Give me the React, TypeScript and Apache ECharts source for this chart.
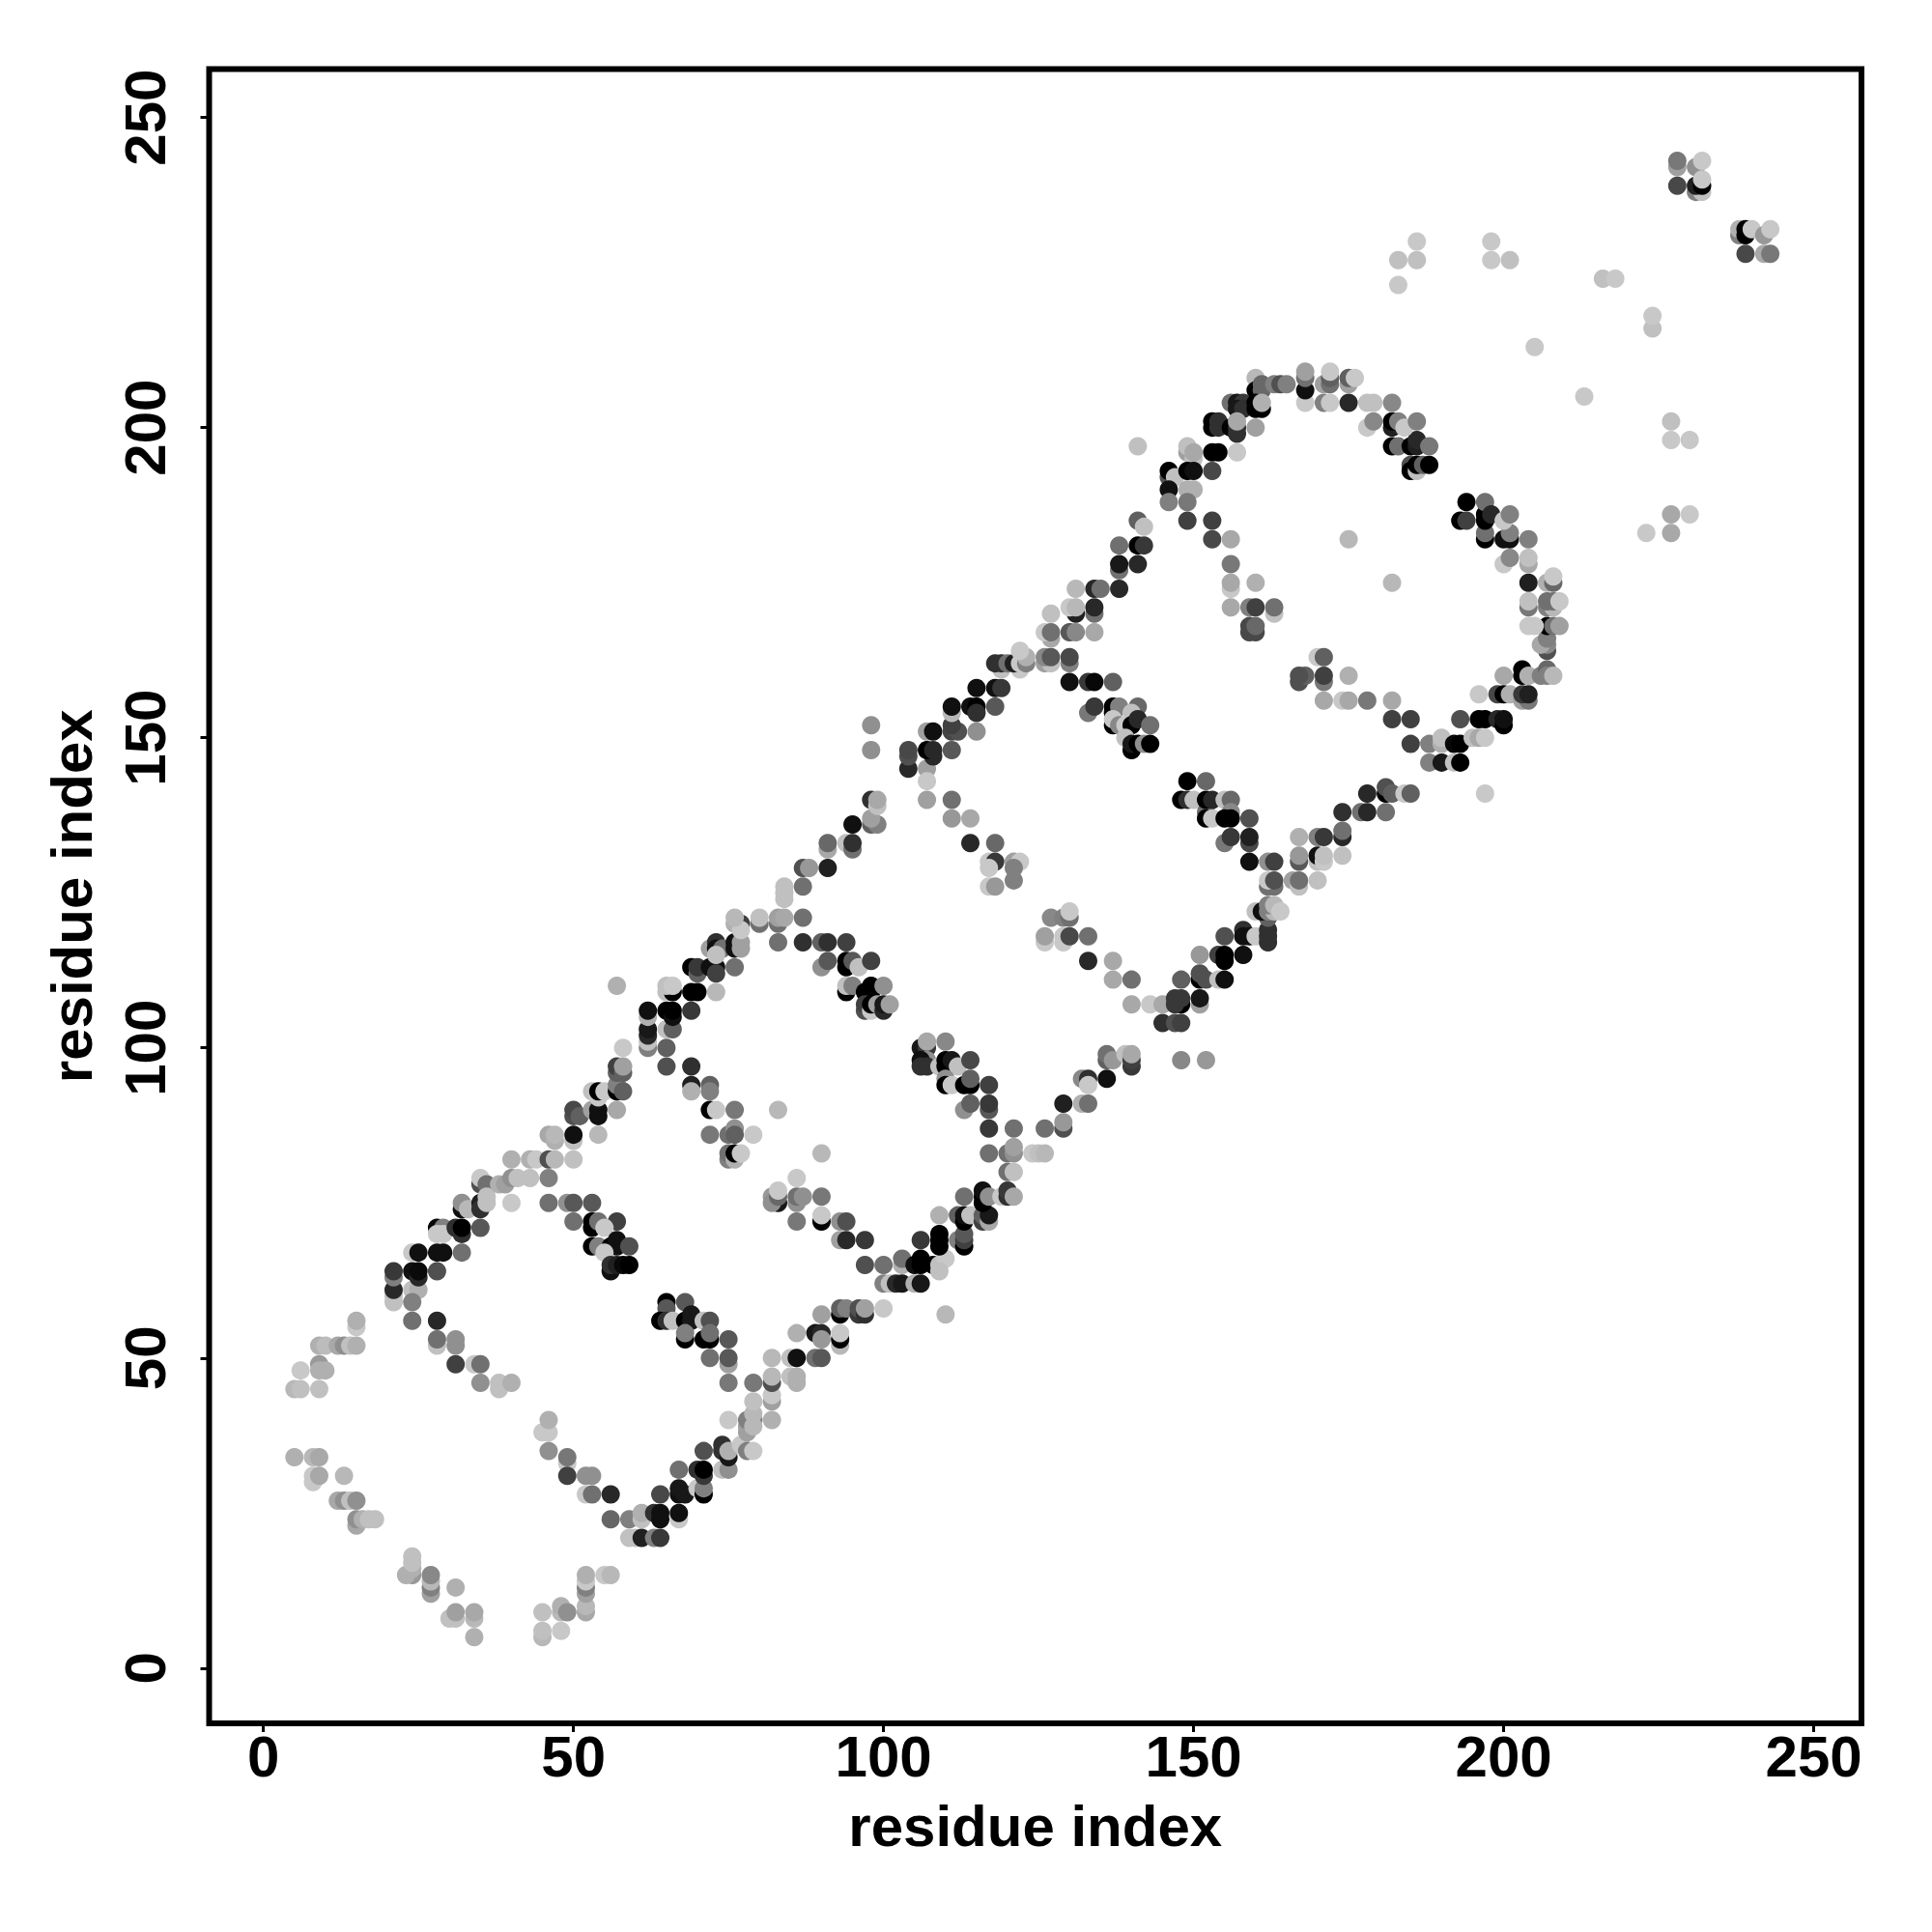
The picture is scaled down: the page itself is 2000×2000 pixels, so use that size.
import React, { useEffect, useRef } from "react";
import * as echarts from "echarts";

type Contact = [number, number, number]; // residue i, residue j, grey level

const axisTicks = [0, 50, 100, 150, 200, 250];
const axisTitle = "residue index";

const cornerArcs: Contact[] = [
  [15,55,0xc8],[15,56,0xb0],[9,52,0xb0],[10,52,0xbc],[12,52,0xa8],[13,52,0x8f],[14,52,0xc0],[15,52,0xb0],[9,49,0x99],[9,48,0xb0],[10,48,0xb0],[6,48,0xc8],[5,45,0xb8],[6,45,0xc0],[9,45,0xc0],
  [5,34,0xb0],[8,34,0xb8],[9,34,0xa8],[8,30,0xc8],[8,31,0xc8],[9,31,0xa8],[13,31,0xb8],[12,27,0xa8],[13,27,0x90],[14,27,0xc0],[15,27,0x90],[15,23,0xa8],[15,24,0x90],[16,24,0xb0],[17,24,0xc0],[18,24,0xc0],
  [24,15,0x99],[23,15,0xb0],[24,16,0xb0],[24,17,0xc0],[24,18,0xc0],[27,12,0xa0],[27,13,0x80],[27,14,0xb8],[27,15,0x88],[31,13,0xb0],[30,8,0xc0],[31,8,0xc0],[31,9,0xa0],[34,8,0xb8],[34,9,0xa8],[34,5,0xb0],
  [45,5,0xb8],[45,6,0xc0],[48,6,0xc8],[45,9,0xc0],[48,9,0xb8],[48,10,0xb0],[49,9,0x90],[52,9,0xa8],[52,10,0xb8],[52,12,0xa0],[52,13,0x80],[52,14,0xc8],[52,15,0xb0],[55,15,0xc8],[56,15,0xb8],
];

const lowerStrandA: Contact[] = [
  [45,38,0xc8],[46,38,0xc8],[46,40,0xb0],[46,35,0x90],[49,33,0xc8],[49,34,0x77],[49,31,0x40],[52,31,0x90],[53,31,0x90],[52,28,0xc8],[53,28,0x70],[56,28,0x28],[56,24,0x66],[59,24,0x80],[61,24,0xc0],[61,25,0xb0],[59,21,0xc0],[60,21,0xc0],[61,21,0x20],[63,21,0x80],[64,21,0x38],[63,25,0x30],[64,25,0x10],[64,24,0x10],[67,24,0xc8],[67,25,0x10],[64,28,0x48],[67,28,0x10],[68,28,0x18],[67,29,0x18],[70,29,0xc8],[71,28,0x00],[71,29,0x80],[67,32,0x70],[70,32,0x30],[71,31,0x38],[71,32,0x00],[74,32,0xc0],[75,32,0x90],[71,35,0x50],[74,35,0x30],[74,36,0x30],[75,34,0x18],[75,35,0xb0],[77,36,0xc8],[78,35,0x80],[79,35,0xc8],
  [78,38,0xa0],[78,39,0xa0],[78,40,0x80],[79,40,0x80],[79,39,0xb8],[79,41,0xb8],[75,40,0xc8],[82,40,0xb0],[79,43,0xc0],[82,43,0xa0],[82,44,0xc8],[75,46,0x78],[79,46,0x78],[82,46,0x50],[82,47,0xb8],[85,47,0xc0],[86,46,0xb0],[86,47,0xb0],[82,50,0xb8],[85,50,0xc0],[86,50,0x10],[89,50,0x70],[90,50,0x58],
  [86,54,0xb0],[89,54,0x18],[90,54,0x28],[90,53,0x98],[93,52,0xb8],[93,53,0x00],[93,54,0xc8],[90,57,0xa0],[93,57,0x00],[93,58,0x60],[94,58,0x80],[96,57,0x38],[96,58,0x50],[97,57,0x30],[97,58,0xa0],[100,58,0xc8],[110,57,0xb8],
];

const lowerStrandB: Contact[] = [
  [97,65,0x50],[100,65,0x70],[103,65,0xb0],[103,66,0x70],[105,65,0x10],[106,65,0x00],[106,66,0x00],[108,65,0x00],[109,65,0xc0],[110,66,0xc8],[109,64,0xc0],[100,62,0x80],[101,62,0xc0],[102,62,0x28],[103,62,0x18],[105,62,0xb0],[106,62,0x18],[106,69,0x38],[109,68,0x00],[109,69,0x00],[109,70,0x00],[112,69,0x80],[113,68,0x00],[113,69,0x40],[113,70,0x58],[109,73,0xb0],[112,73,0x60],[113,72,0x00],[113,73,0x10],[114,73,0xc0],[116,72,0x40],[116,73,0x60],[117,72,0xa8],[117,73,0x18],[113,76,0x70],[116,75,0x00],[116,76,0x00],[116,77,0x10],[117,76,0x90],[119,76,0xc8],[120,76,0x30],[120,77,0x38],[121,76,0xa8],[120,80,0x70],[121,80,0xc0],[117,83,0x70],[120,83,0x70],[121,83,0x90],[121,84,0xa0],[124,83,0xc8],[125,83,0xc0],[126,83,0xb8],[117,87,0x38],[121,87,0x70],[126,87,0x70],[129,87,0x50],[129,88,0x98],[129,91,0x20],[132,91,0xb0],[133,91,0x70],[132,95,0x88],[133,95,0x30],[133,94,0xc8],[136,95,0x10],[136,98,0x60],[136,99,0x70],[137,98,0x98],[139,99,0xc0],[140,97,0x38],[140,98,0x40],[140,99,0xa8],[148,98,0x88],[152,98,0x98],
  [145,104,0x30],[147,104,0x50],[148,104,0x40],[143,107,0xc8],[145,107,0xa8],[140,107,0xa8],[148,107,0x00],[147,107,0x38],[147,108,0x38],[148,108,0x38],[151,107,0xa0],[151,108,0x18],[148,111,0x60],[151,111,0x00],[151,112,0x50],[152,111,0x50],[154,111,0xc0],[155,111,0x10],[151,115,0x98],[154,115,0x40],[155,114,0x00],[155,115,0x00],[158,115,0x10],[155,118,0x50],[158,119,0x30],[158,118,0x10],[159,118,0x10],[160,118,0xc8],[162,117,0x30],[162,118,0x30],[162,119,0x30],
  [160,122,0xc0],[162,121,0x60],[161,122,0x10],[162,122,0x80],[163,122,0xb8],[162,123,0x80],[163,123,0xb8],[164,122,0xc8],[162,126,0x70],[163,126,0x70],[162,127,0xc8],[163,127,0x50],[162,130,0x90],[163,130,0x40],[159,130,0x10],[166,127,0xa0],[167,126,0xc0],[167,127,0x70],[170,127,0xc0],[167,130,0x58],[167,131,0x98],[170,130,0xc0],[170,131,0x10],[171,130,0xc8],[171,131,0xc0],[174,131,0xc0],[167,134,0xb0],[170,134,0x80],[171,134,0x38],[174,134,0x28],[174,135,0x70],[174,138,0x30],[177,138,0x70],[178,138,0x28],[181,138,0x70],[178,141,0x28],[181,141,0x00],[181,142,0x50],[182,141,0x60],[184,141,0xc8],[185,141,0x60],
];

const outerLoop: Contact[] = [
  [185,149,0x40],[188,149,0x80],[190,149,0xb0],[190,150,0xc0],[192,149,0x08],[193,149,0x00],[188,146,0x80],[190,146,0x18],[192,146,0xc0],[193,146,0x00],[182,153,0x40],[185,153,0x40],[193,153,0x50],[196,153,0x00],[197,153,0x00],[199,153,0x28],[200,152,0x00],[200,153,0x10],[195,150,0xc0],[196,150,0xa8],[197,150,0xc8],
  [171,156,0xa8],[174,156,0xc8],[175,156,0xa8],[178,156,0x78],[182,156,0xa8],[196,157,0xc8],[199,157,0x48],[200,157,0x00],[201,157,0xb0],[203,156,0xa0],[204,156,0x78],[203,157,0x38],[204,157,0x20],[200,160,0xa8],[203,161,0x00],[203,160,0x00],[204,160,0xb0],[206,160,0x80],[207,161,0x68],[207,160,0x80],[208,160,0xb8],[207,164,0x50],[207,165,0x88],[206,165,0xa8],[207,166,0x80],[207,168,0x00],[204,168,0xc8],[205,168,0xc8],[208,168,0x70],[209,168,0xa0],[204,171,0x78],[204,172,0xc0],[207,171,0x80],[208,171,0xb8],[207,172,0x70],[208,172,0x70],[209,172,0xc8],[204,175,0x20],[207,175,0xb0],[208,175,0x68],[208,176,0xc8],
  [204,178,0xa8],[204,179,0xc0],[200,178,0xc8],[201,179,0x88],[204,182,0x80],[200,182,0x10],[201,182,0x10],[197,182,0x00],[197,183,0x70],[201,183,0x80],[193,185,0x00],[194,185,0x40],[197,185,0x00],[197,186,0x00],[197,188,0x70],[194,188,0x00],[198,186,0x28],[200,185,0xc8],[201,186,0x80],
  [185,194,0x50],[185,193,0x00],[186,193,0xc0],[186,194,0x00],[187,194,0x60],[188,194,0x00],[182,197,0x00],[183,197,0x70],[185,197,0x00],[186,197,0x20],[186,198,0x28],[188,197,0x78],[178,200,0xc8],[179,201,0x88],[182,200,0x20],[182,201,0x00],[183,201,0x80],[184,200,0xc8],[186,201,0x80],
  [168,204,0xc8],[171,204,0x80],[172,204,0xc8],[175,204,0x28],[178,204,0xc0],[179,204,0xc0],[182,204,0x88],[160,208,0xb8],[160,206,0x00],[161,206,0x68],[161,207,0x68],[163,207,0x80],[164,207,0x50],[165,207,0x80],[168,206,0x10],[168,208,0x70],[168,209,0xa0],[171,207,0xa0],[172,207,0x70],[172,208,0x60],[172,209,0xc8],[175,207,0xa0],[175,208,0x60],[176,208,0xc8],
  [156,204,0x70],[157,204,0x18],[158,204,0x38],[157,203,0x18],[158,203,0x30],[160,203,0x00],[160,204,0x00],[161,203,0x00],[161,204,0xb0],[153,200,0x00],[153,201,0x00],[154,200,0x30],[154,201,0x30],[156,200,0x00],[157,199,0x30],[157,200,0x30],[157,201,0xa8],[160,200,0xa0],[153,196,0x00],[154,196,0x00],[157,196,0xc8],[149,196,0xa0],[150,195,0xc0],[149,197,0xc0],[150,196,0xa8],[146,192,0x50],[146,193,0x00],[147,192,0xc0],[149,193,0x00],[150,193,0x10],[153,193,0x48],[146,190,0x10],[149,190,0xb0],[150,190,0xb0],[146,188,0x80],[149,188,0x78],
];

const upperDiagonal: Contact[] = [
  [21,59,0xc0],[21,60,0xc0],[21,61,0x28],[21,63,0x80],[21,64,0x38],[24,61,0xc0],[25,61,0xb0],[24,59,0x80],[24,64,0x10],[25,63,0x28],[25,64,0x0a],[28,64,0x50],[24,56,0x70],[28,56,0x28],[28,52,0xc0],[28,53,0x70],[31,52,0x90],[31,53,0x90],[31,49,0x40],[34,49,0xc8],[35,49,0x70],[35,46,0x90],[38,45,0xc0],[38,46,0xc0],[40,46,0xb0],
  [24,67,0xc8],[25,67,0x10],[28,67,0x10],[29,67,0x10],[32,67,0x70],[28,71,0x08],[29,71,0x80],[28,70,0xc8],[29,70,0xc8],[31,71,0x30],[32,70,0x30],[32,71,0x00],[35,71,0x58],[32,74,0x10],[32,75,0x90],[33,74,0xb8],[35,75,0x20],[35,74,0x30],[36,75,0xc0],[35,78,0x50],[35,79,0xc8],[36,78,0x70],[36,76,0xc0],[40,75,0xc8],[38,78,0xb0],[39,78,0xa0],[40,79,0x90],[41,79,0xc0],[43,79,0xc0],[46,79,0x80],[40,82,0xb0],[43,82,0xb0],[44,82,0xc8],[46,82,0x50],[47,82,0xb8],[50,82,0xc0],
  [46,86,0xa8],[47,85,0xb0],[47,86,0xb8],[50,85,0xc0],[50,86,0x10],[54,86,0xb8],[50,89,0x50],[50,90,0x48],[51,89,0x60],[53,90,0xa0],[54,89,0x10],[54,90,0x10],[57,90,0xa8],[53,93,0xc0],[54,92,0xc8],[54,93,0x00],[55,93,0xc8],[57,93,0x00],[57,94,0x80],[58,93,0x60],[57,96,0x60],[57,97,0x40],[58,96,0x60],[58,97,0xa0],[58,100,0xc8],[57,110,0xb0],
  [62,100,0x80],[62,101,0xc0],[62,102,0x28],[62,103,0x18],[65,100,0x60],[65,103,0xc0],[66,103,0x60],[62,105,0xb0],[62,106,0x10],[65,106,0x00],[66,105,0x10],[66,106,0x00],[69,106,0x38],[65,109,0xc0],[66,109,0x00],[65,110,0xc0],[66,110,0xc8],[69,109,0x00],[70,109,0x00],[73,109,0xb8],[69,113,0x00],[70,112,0x60],[70,113,0x38],[72,113,0x10],[73,113,0x10],[73,112,0x40],[76,113,0x70],[72,116,0xa0],[73,117,0x30],[73,116,0x10],[74,116,0x70],[73,115,0xc0],[76,116,0x10],[76,117,0x10],[77,116,0xa0],[77,117,0xa0],[76,120,0xb0],[77,120,0x40],[77,119,0xc8],[76,121,0xb8],[80,120,0x70],[80,121,0xc0],[83,120,0x70],[83,121,0xa0],[84,121,0xa8],[87,121,0x70],[84,124,0xc0],[84,125,0xc0],[84,126,0xc0],[87,126,0x70],
  [87,129,0x50],[88,129,0x98],[91,129,0x20],[91,132,0xa8],[91,133,0x68],[94,133,0xc0],[95,132,0x70],[95,133,0x30],[95,136,0x10],[98,136,0x60],[99,136,0x80],[98,137,0xa0],[98,140,0x30],[99,139,0xc0],[99,140,0xa8],[98,148,0x90],[98,152,0x90],
  [104,145,0x28],[107,145,0xa0],[104,147,0x50],[108,147,0x28],[104,148,0x48],[107,148,0x00],[108,148,0x28],[111,148,0x58],[107,151,0xa0],[108,151,0x10],[111,151,0x45],[112,151,0x50],[111,152,0x40],[115,151,0x90],[111,154,0xb8],[111,155,0x10],[114,155,0x10],[115,155,0x00],[115,154,0x30],[118,155,0x58],[115,158,0x10],[118,158,0x10],[119,158,0x38],[119,161,0xc0],[122,161,0xc8],[118,162,0x30],[119,162,0x30],[120,162,0x70],[121,162,0x20],[122,162,0xc8],[123,162,0x80],[126,162,0xa0],[127,162,0xc0],[130,162,0x80],[123,163,0xb0],[126,163,0x88],[127,163,0x58],[130,163,0x48],[122,164,0xc8],
  [127,166,0xa8],[126,167,0xc8],[127,167,0x70],[130,167,0x58],[131,167,0x88],[134,167,0xa8],[127,170,0xc0],[131,170,0x20],[130,171,0xc8],[131,171,0xb8],[134,170,0x70],[134,171,0x28],[131,174,0xb8],[134,174,0x28],[135,174,0x70],[138,174,0x28],[138,177,0x70],[138,178,0x18],[141,178,0x28],[138,181,0x70],[141,181,0x00],[142,181,0x38],[141,185,0x60],[142,184,0xc0],
];

const innerStrands: Contact[] = [
  [46,75,0x70],[49,75,0x90],[50,75,0x58],[53,75,0x58],[50,72,0x70],[53,71,0x00],[53,72,0x00],[54,72,0x70],[57,72,0x40],[55,71,0xc8],[53,68,0x00],[54,68,0x80],[56,68,0x00],[57,69,0x10],[57,68,0x10],[59,68,0x50],[55,67,0xc8],[56,64,0x10],[56,65,0x30],[57,65,0x20],[58,65,0x08],[59,65,0x00],
  [69,97,0x30],[65,97,0x50],[69,94,0x20],[69,93,0xb0],[72,94,0x60],[72,93,0x80],[72,90,0x00],[73,90,0xc8],[76,90,0x78],[72,86,0x78],[75,86,0x70],[76,87,0x90],[76,86,0x60],[79,86,0xc8],[75,82,0x80],[75,83,0x70],[76,82,0xb0],[76,83,0x00],[77,83,0xc8],[83,90,0xb8],
  [65,59,0x00],[65,58,0x58],[68,59,0x58],[64,56,0x00],[65,56,0x30],[66,56,0xc0],[68,56,0x00],[69,56,0x18],[69,57,0x18],[71,56,0xc0],[72,56,0x50],[68,53,0x00],[68,54,0x80],[71,53,0x00],[72,53,0x00],[72,54,0x70],[75,53,0x58],[72,50,0x70],[75,49,0xa0],[75,50,0x58],
  [82,76,0x98],[83,75,0x18],[82,75,0x90],[83,76,0x68],[83,77,0xc8],[86,75,0x90],[86,76,0x70],[87,76,0x90],[90,76,0x78],[86,79,0xc8],[86,72,0x78],[90,72,0x00],[90,73,0xc8],[93,72,0x90],[94,72,0x50],[93,69,0xa0],[94,69,0x28],[97,69,0x38],[90,83,0xb8],
  [83,117,0x70],[87,117,0x30],[90,117,0x60],[91,117,0x30],[94,117,0x40],[90,113,0x90],[91,114,0x58],[94,113,0x00],[94,114,0x00],[95,114,0x58],[96,113,0xc0],[98,114,0x40],[94,109,0x00],[94,110,0xc0],[95,110,0x80],[97,109,0x00],[98,109,0x00],[98,110,0x00],[100,110,0x90],[97,106,0x50],[97,107,0x40],[98,106,0xc8],[98,107,0x00],[99,107,0xa0],[100,106,0x28],[100,107,0x18],[101,107,0xa0],
  [106,100,0x18],[107,100,0x38],[107,98,0x90],[106,98,0x10],[106,97,0x30],[107,97,0x30],[107,101,0xa8],[110,101,0x88],[109,97,0xc0],[110,97,0x00],[110,98,0x00],[111,98,0x18],[112,97,0xc0],[114,98,0x48],[110,95,0x90],[110,94,0x00],[111,94,0xc8],[113,94,0x00],[114,94,0x00],[114,95,0x60],[117,94,0x40],[113,90,0x90],[114,91,0x60],[117,90,0x58],[117,91,0x38],
  [107,143,0xc8],[107,140,0xa0],[111,140,0x70],[111,137,0x98],[114,137,0xa8],[114,133,0x28],[118,133,0x68],[117,130,0xc8],[118,130,0x38],[121,130,0xa0],[122,130,0xc8],[117,129,0xc8],[121,129,0x80],[121,127,0x80],[117,126,0xc8],[118,126,0x98],
  [127,121,0x88],[129,121,0x80],[130,121,0x70],[130,122,0xc8],[126,117,0xc8],[126,118,0xa0],[129,117,0xc8],[129,118,0xc8],[130,118,0x48],[133,118,0x70],[133,114,0x28],[137,114,0xa8],[137,111,0xa8],[140,111,0x70],
  [130,159,0x10],[133,159,0x38],[134,159,0x08],[137,159,0x60],[133,154,0x78],[134,155,0x38],[137,154,0x00],[137,155,0x00],[138,155,0x80],[141,155,0x68],[140,154,0xc0],[137,152,0x00],[137,153,0xc8],[138,152,0x88],[139,152,0xc8],[140,152,0x00],[141,153,0x28],[143,152,0x70],[139,150,0xc0],[140,148,0x00],[140,149,0x18],[141,149,0x00],[142,149,0x90],[143,149,0x00],
  [148,140,0x00],[149,140,0x30],[149,143,0x00],[150,140,0xc0],[152,138,0x70],[152,140,0x00],[152,143,0x68],[153,140,0x28],[155,140,0xc0],[156,140,0x68],[156,138,0x88],[152,137,0x00],[153,137,0xc8],[155,137,0x00],[156,137,0x00],[159,137,0x50],[155,133,0x78],[156,134,0x38],[159,133,0x48],[159,134,0x20],
  [149,185,0x40],[153,185,0x40],[153,182,0x48],[156,182,0xa8],[156,178,0x78],[156,174,0xc8],[156,175,0xa8],[160,175,0xb0],[156,171,0xa8],[159,171,0x80],[160,171,0x40],[163,170,0xc0],[163,171,0x70],[159,167,0x48],[160,167,0x48],[159,168,0x48],[160,168,0x68],[170,163,0xc8],[171,163,0x60],[167,159,0x50],[168,160,0x60],[167,160,0x50],[171,159,0x78],[171,160,0x40],[175,160,0xb0],[175,182,0xb8],[182,175,0xb8],
];

const sparseContacts: Contact[] = [
  [183,223,0xc8],[183,227,0xc0],[186,227,0xc0],[186,230,0xc8],[198,230,0xc8],[198,227,0xc8],[201,227,0xc0],[216,224,0xc0],[218,224,0xc8],[224,216,0xc0],[224,218,0xc8],[205,213,0xc8],[213,205,0xc8],[227,201,0xc0],[227,198,0xc8],[230,198,0xc8],[227,186,0xa8],[230,186,0xc8],[227,183,0xa8],[223,183,0xc8],[197,141,0xc8],[141,197,0xc0],
  [228,242,0xa0],[228,243,0x78],[231,242,0x90],[232,243,0xc8],[228,239,0x48],[231,238,0x80],[232,238,0xc0],[231,239,0x20],[232,239,0x00],[232,240,0xc8],[238,231,0x80],[238,232,0xb0],[239,231,0x00],[239,232,0x00],[240,232,0xc8],[242,231,0x98],[243,232,0xc8],[239,228,0x48],[242,228,0xa8],[243,228,0x78],
];

const contacts: Contact[] = [
  ...cornerArcs, ...lowerStrandA, ...lowerStrandB, ...outerLoop, ...upperDiagonal, ...innerStrands, ...sparseContacts,
];

const FONT = "'Liberation Sans', Arial, sans-serif";

function axisOf(isX: boolean) {
  return {
    type: "value",
    min: isX ? -8.75 : -8.9,
    max: isX ? 257.7 : 257.8,
    name: axisTitle,
    nameLocation: "middle",
    nameGap: isX ? 76 : 112,
    nameTextStyle: { fontFamily: FONT, fontWeight: "bold", fontSize: 60, color: "#000" },
    axisLine: { show: false, onZero: false },
    splitLine: { show: false },
    axisTick: { show: true, length: 9, customValues: axisTicks, lineStyle: { color: "#000", width: 3 } },
    axisLabel: {
      show: true,
      customValues: axisTicks,
      rotate: isX ? 0 : 90,
      margin: isX ? 4 : 36.5,
      fontFamily: FONT,
      fontWeight: "bold",
      fontSize: 60,
      color: "#000",
      hideOverlap: false,
      showMinLabel: true,
      showMaxLabel: true,
    },
  };
}

export default function App() {
  const ref = useRef<HTMLDivElement>(null);
  useEffect(() => {
    const chart = echarts.init(ref.current!, null, { renderer: "svg" });
    chart.setOption({
      animation: false,
      backgroundColor: "#fff",
      grid: {
        show: true,
        left: 216.5,
        top: 71.5,
        width: 1710.5,
        height: 1712.5,
        borderColor: "#000",
        borderWidth: 6,
        backgroundColor: "transparent",
      },
      xAxis: axisOf(true),
      yAxis: axisOf(false),
      series: [
        {
          type: "scatter",
          symbol: "circle",
          symbolSize: 19,
          clip: false,
          data: contacts,
          itemStyle: {
            opacity: 1,
            color: (p: any) => {
              const s = p.value[2];
              return `rgb(${s},${s},${s})`;
            },
          },
          encode: { x: 0, y: 1 },
        },
      ],
    });
    return () => chart.dispose();
  }, []);
  return <div ref={ref} style={{ position: "fixed", left: 0, top: 0, width: 2000, height: 2000 }} />;
}
